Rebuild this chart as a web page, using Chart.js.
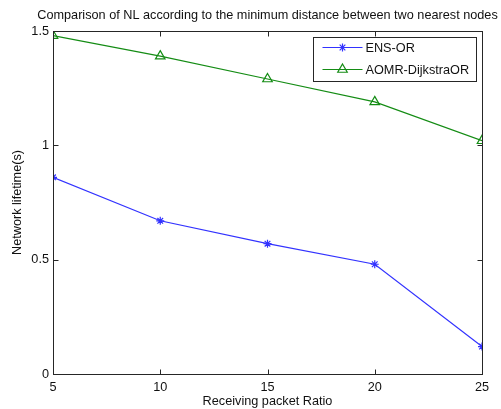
<!DOCTYPE html>
<html>
<head>
<meta charset="utf-8">
<script src="https://cdn.jsdelivr.net/npm/chart.js@4.4.0/dist/chart.umd.min.js"></script>
<style>
html,body{margin:0;padding:0;background:#fff}
#wrap{width:501px;height:409px;position:relative}
</style>
</head>
<body>
<div id="wrap"><canvas id="c"></canvas></div>
<script>
// values
const xVals=[5,10,15,20,25];
const ensOr=[0.86,0.67,0.57,0.48,0.12];
const aomrDijkstra=[1.48,1.39,1.29,1.19,1.02];
const seriesNames=['ENS-OR','AOMR-DijkstraOR'];
const xTicks=[5,10,15,20,25];
const yTicks=[0,0.5,1,1.5];
const titleText='Comparison of NL according to the minimum distance between two nearest nodes';

const FONT='"Liberation Sans", Arial, sans-serif';
const FS=12.7;
const blue='rgb(50,50,255)';
const green='rgb(20,140,20)';

const pts=arr=>arr.map((v,i)=>({x:xVals[i],y:v}));

// matlab style box, inward ticks, title over the axes and boxed legend
const frame={
  id:'frame',
  afterDatasetsDraw(chart){
    const {ctx,chartArea:a,scales:{x,y}}=chart;
    const L=Math.round(a.left)+.5,R=Math.round(a.right)+.5,T=Math.round(a.top)+.5,B=Math.round(a.bottom)+.5;
    ctx.save();
    ctx.strokeStyle='#262626';ctx.lineWidth=1;
    ctx.strokeRect(L,T,R-L,B-T);
    ctx.beginPath();
    xTicks.forEach(v=>{
      const px=Math.round(x.getPixelForValue(v))+.5;
      ctx.moveTo(px,B);ctx.lineTo(px,B-5);
      ctx.moveTo(px,T);ctx.lineTo(px,T+5);
    });
    yTicks.forEach(v=>{
      const py=Math.round(y.getPixelForValue(v))+.5;
      ctx.moveTo(L,py);ctx.lineTo(L+5,py);
      ctx.moveTo(R,py);ctx.lineTo(R-5,py);
    });
    ctx.stroke();

    ctx.font=FS+'px '+FONT;ctx.fillStyle='#111';
    ctx.textAlign='center';ctx.textBaseline='middle';
    ctx.fillText(titleText,(a.left+a.right)/2,15);

    // legend
    const bw=163,bh=44;
    const bx=Math.round(a.right)-169+.5,by=Math.round(a.top)+6+.5;
    ctx.fillStyle='#fff';ctx.fillRect(bx,by,bw,bh);
    ctx.strokeStyle='#262626';ctx.strokeRect(bx,by,bw,bh);
    ctx.textAlign='left';
    chart.data.datasets.forEach((ds,i)=>{
      const ry=by+10+i*22;
      ctx.strokeStyle=ds.borderColor;ctx.lineWidth=ds.borderWidth;
      ctx.beginPath();ctx.moveTo(bx+9,ry);ctx.lineTo(bx+49,ry);ctx.stroke();
      ctx.fillStyle=ds.pointBackgroundColor;
      ctx.strokeStyle=ds.borderColor;
      Chart.helpers.drawPoint(ctx,{pointStyle:ds.pointStyle,radius:ds.pointRadius,borderWidth:ds.pointBorderWidth,rotation:0},bx+29,ry);
      ctx.fillStyle='#111';
      ctx.fillText(ds.label,bx+52,ry+1);
    });
    ctx.restore();
  }
};

new Chart(document.getElementById('c'),{
  type:'line',
  data:{datasets:[
    {label:seriesNames[0],data:pts(ensOr),borderColor:blue,borderWidth:1.2,pointStyle:'star',pointRadius:4,pointBorderWidth:1.2,pointBackgroundColor:blue,pointBorderColor:blue,tension:0,fill:false},
    {label:seriesNames[1],data:pts(aomrDijkstra),borderColor:green,borderWidth:1.2,pointStyle:'triangle',pointRadius:5.5,pointBorderWidth:1.2,pointBackgroundColor:'rgba(0,0,0,0)',pointBorderColor:green,tension:0,fill:false}
  ]},
  options:{
    responsive:true,maintainAspectRatio:false,animation:false,
    layout:{padding:{left:0,right:19,top:31,bottom:0}},
    plugins:{legend:{display:false},tooltip:{enabled:false},title:{display:false}},
    scales:{
      x:{type:'linear',min:5,max:25,
        afterBuildTicks:s=>{s.ticks=xTicks.map(v=>({value:v}));},
        afterFit:s=>{s.height=35;},
        grid:{display:false,drawTicks:false},border:{display:false},
        ticks:{padding:6,color:'#111',font:{family:FONT,size:FS},maxRotation:0,callback:v=>String(v)},
        title:{display:true,text:'Receiving packet Ratio',color:'#111',font:{family:FONT,size:FS},padding:{top:0,bottom:0}}
      },
      y:{type:'linear',min:0,max:1.5,
        afterBuildTicks:s=>{s.ticks=yTicks.map(v=>({value:v}));},
        afterFit:s=>{s.width=53;},
        grid:{display:false,drawTicks:false},border:{display:false},
        ticks:{padding:4,color:'#111',font:{family:FONT,size:FS},callback:v=>String(v)},
        title:{display:true,text:'Network lifetime(s)',color:'#111',font:{family:FONT,size:FS},padding:{top:10,bottom:0}}
      }
    }
  },
  plugins:[frame]
});
</script>
</body>
</html>
